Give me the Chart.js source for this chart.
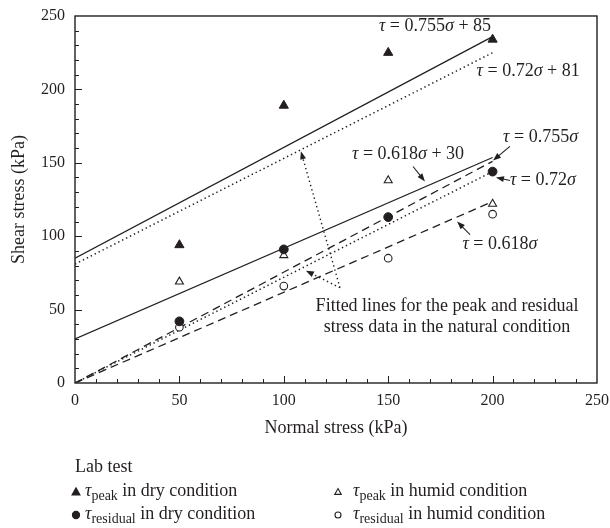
<!DOCTYPE html>
<html>
<head>
<meta charset="utf-8">
<script src="https://cdn.jsdelivr.net/npm/chart.js@4.4.1/dist/chart.umd.min.js"></script>
<style>
  body { margin: 0; background: #fff; }
  #wrap { width: 610px; height: 528px; }
</style>
</head>
<body>
<div id="wrap"><canvas id="mycanvas" width="610" height="528"></canvas></div>
<script>
// lab test results, shear stress (kPa) at each normal stress (kPa)
var normalStress = [50, 100, 150, 200];
var dryPeak = [94, 189, 225, 234];
var humidPeak = [69, 87, 138, 122];
var dryResidual = [42, 91, 113, 144];
var humidResidual = [38, 66, 85, 115];

// fitted lines tau = a*sigma + b
var fitSlopes = [0.755, 0.72, 0.618, 0.755, 0.72, 0.618];
var fitIntercepts = [85, 81, 30, 0, 0, 0];
var fitRange = [0, 200];

var xTicks = [0, 50, 100, 150, 200, 250];
var yTicks = [0, 50, 100, 150, 200, 250];

var FONT = '"Liberation Serif", "Times New Roman", serif';
var INK = '#231f20';
var TXT = 18;

function pts(ys) {
  return normalStress.map(function(x, i) { return {x: x, y: ys[i]}; });
}
function fitLine(i) {
  return fitRange.map(function(s) { return {x: s, y: fitSlopes[i] * s + fitIntercepts[i]}; });
}

var DOT = [1.4, 3];
var DASH = [8, 5];
var lineStyles = [[], DOT, [], DASH, DOT, DASH];

var datasets = [
  {label: 'peak dry', data: pts(dryPeak), pointStyle: 'triangle', pointRadius: 5.3,
   backgroundColor: INK, borderColor: INK, borderWidth: 1, order: 1},
  {label: 'peak humid', data: pts(humidPeak), pointStyle: 'triangle', pointRadius: 4.6,
   backgroundColor: '#fff', borderColor: INK, borderWidth: 1.1, order: 2},
  {label: 'residual dry', data: pts(dryResidual), pointStyle: 'circle', pointRadius: 4.4,
   backgroundColor: INK, borderColor: INK, borderWidth: 1, order: 0},
  {label: 'residual humid', data: pts(humidResidual), pointStyle: 'circle', pointRadius: 3.8,
   backgroundColor: '#fff', borderColor: INK, borderWidth: 1.1, order: 3}
];
for (var i = 0; i < fitSlopes.length; i++) {
  datasets.push({
    label: 'fit ' + i,
    data: fitLine(i),
    showLine: true,
    pointRadius: 0,
    borderColor: INK,
    borderWidth: lineStyles[i] === DOT ? 1.5 : 1.3,
    borderDash: lineStyles[i],
    borderCapStyle: 'butt',
    order: 10
  });
}

// rich text: runs of {t, it, sub}
function runFont(r) {
  return (r.it ? 'italic ' : '') + (r.sub ? '14px ' : TXT + 'px ') + FONT;
}
function drawRuns(ctx, runs, x, y, align) {
  var w = 0;
  runs.forEach(function(r) { ctx.font = runFont(r); w += ctx.measureText(r.t).width; });
  var cx = align === 'center' ? x - w / 2 : x;
  ctx.textAlign = 'left';
  ctx.textBaseline = 'middle';
  ctx.fillStyle = INK;
  runs.forEach(function(r) {
    ctx.font = runFont(r);
    ctx.fillText(r.t, cx, r.sub ? y + 5 : y);
    cx += ctx.measureText(r.t).width;
  });
}
function eq(a, b) {
  var runs = [{t: 'τ', it: true}, {t: ' = ' + a}, {t: 'σ', it: true}];
  if (b) runs.push({t: ' + ' + b});
  return runs;
}

function arrow(ctx, x0, y0, x1, y1, dotted) {
  var ang = Math.atan2(y1 - y0, x1 - x0);
  var len = 8, hw = 3;
  ctx.save();
  ctx.strokeStyle = INK;
  ctx.fillStyle = INK;
  ctx.lineWidth = dotted ? 1.4 : 1.1;
  ctx.setLineDash(dotted ? [1.4, 3] : []);
  ctx.beginPath();
  ctx.moveTo(x0, y0);
  ctx.lineTo(x1 - Math.cos(ang) * len * 0.8, y1 - Math.sin(ang) * len * 0.8);
  ctx.stroke();
  ctx.setLineDash([]);
  ctx.beginPath();
  ctx.moveTo(x1, y1);
  ctx.lineTo(x1 - Math.cos(ang) * len - Math.sin(ang) * hw, y1 - Math.sin(ang) * len + Math.cos(ang) * hw);
  ctx.lineTo(x1 - Math.cos(ang) * len + Math.sin(ang) * hw, y1 - Math.sin(ang) * len - Math.cos(ang) * hw);
  ctx.closePath();
  ctx.fill();
  ctx.restore();
}

// box round the plot plus inward minor/major ticks
var frameTicks = {
  id: 'frameTicks',
  beforeDatasetsDraw: function(chart) {
    var ctx = chart.ctx, a = chart.chartArea;
    var xs = chart.scales.x, ys = chart.scales.y;
    ctx.save();
    ctx.strokeStyle = INK;
    ctx.lineWidth = 1;
    ctx.beginPath();
    for (var v = 10; v < 250; v += 10) {
      var len = v % 50 === 0 ? 7 : 4;
      var px = Math.round(xs.getPixelForValue(v)) + 0.5;
      ctx.moveTo(px, a.bottom);
      ctx.lineTo(px, a.bottom - len);
      var py = Math.round(ys.getPixelForValue(v)) + 0.5;
      ctx.moveTo(a.left, py);
      ctx.lineTo(a.left + len, py);
    }
    ctx.stroke();
    ctx.lineWidth = 1.4;
    ctx.strokeRect(a.left, a.top, a.right - a.left, a.bottom - a.top);
    ctx.restore();
  }
};

var notes = {
  id: 'notes',
  afterDatasetsDraw: function(chart) {
    var ctx = chart.ctx;
    var xs = chart.scales.x, ys = chart.scales.y;
    function P(x, y) { return [xs.getPixelForValue(x), ys.getPixelForValue(y)]; }
    function label(runs, x, y, align) { var p = P(x, y); drawRuns(ctx, runs, p[0], p[1], align); }
    function arr(x0, y0, x1, y1, dotted) { var a = P(x0, y0), b = P(x1, y1); arrow(ctx, a[0], a[1], b[0], b[1], dotted); }

    label(eq('0.755', 85), 172.4, 243.2, 'center');
    label(eq('0.72', 81), 217, 212.4, 'center');
    label(eq('0.618', 30), 159.5, 155.7, 'center');
    label(eq('0.755'), 205, 167.3, 'left');
    label(eq('0.72'), 208.3, 138, 'left');
    label(eq('0.618'), 203.5, 94.3, 'center');

    arr(161.9, 147.5, 167.6, 137.3);
    arr(208.3, 161.2, 200.2, 151.6);
    arr(208.3, 138, 201.6, 140);
    arr(189.2, 101.1, 183, 110);

    arr(126.9, 64.9, 108.2, 157.8, true);
    arr(126.9, 64.9, 110.6, 76.5, true);

    label([{t: 'Fitted lines for the peak and residual'}], 178.2, 52.6, 'center');
    label([{t: 'stress data in the natural condition'}], 178.2, 38.3, 'center');
  },
  afterDraw: function(chart) {
    var ctx = chart.ctx;
    drawRuns(ctx, [{t: 'Lab test'}], 75, 467, 'left');
    var rows = [
      {x: 76, y: 492, shape: 'tri', fill: true, runs: [{t: 'τ', it: true}, {t: 'peak', sub: true}, {t: ' in dry condition'}]},
      {x: 76, y: 515, shape: 'dot', fill: true, runs: [{t: 'τ', it: true}, {t: 'residual', sub: true}, {t: ' in dry condition'}]},
      {x: 338, y: 492, shape: 'tri', fill: false, runs: [{t: 'τ', it: true}, {t: 'peak', sub: true}, {t: ' in humid condition'}]},
      {x: 338, y: 515, shape: 'dot', fill: false, runs: [{t: 'τ', it: true}, {t: 'residual', sub: true}, {t: ' in humid condition'}]}
    ];
    rows.forEach(function(r) {
      ctx.save();
      ctx.fillStyle = r.fill ? INK : '#fff';
      ctx.strokeStyle = INK;
      ctx.lineWidth = 1.1;
      ctx.beginPath();
      if (r.shape === 'tri') {
        var s = r.fill ? 4.2 : 3.4;
        ctx.moveTo(r.x, r.y - s);
        ctx.lineTo(r.x + s * 0.95, r.y + s * 0.7);
        ctx.lineTo(r.x - s * 0.95, r.y + s * 0.7);
        ctx.closePath();
      } else {
        ctx.arc(r.x, r.y, r.fill ? 3.6 : 3, 0, Math.PI * 2);
      }
      ctx.fill();
      ctx.stroke();
      ctx.restore();
      drawRuns(ctx, r.runs, r.x + (r.fill ? 9 : 15), r.y - 1, 'left');
    });
  }
};

var ctx = document.getElementById('mycanvas');
var chart = new Chart(ctx, {
  type: 'scatter',
  data: {datasets: datasets},
  plugins: [frameTicks, notes],
  options: {
    responsive: false,
    animation: false,
    layout: {padding: {left: 0, right: 13, top: 16, bottom: 80}},
    plugins: {legend: {display: false}, tooltip: {enabled: false}},
    scales: {
      x: {
        type: 'linear', min: 0, max: 250,
        afterFit: function(s) { s.height = 65; s.paddingLeft = 0; s.paddingRight = 0; },
        afterBuildTicks: function(s) { s.ticks = xTicks.map(function(v) { return {value: v}; }); },
        grid: {display: false, drawTicks: false},
        border: {display: false},
        ticks: {color: INK, padding: 8, maxRotation: 0, font: {family: FONT, size: 16}},
        title: {display: true, text: 'Normal stress (kPa)', color: INK, padding: {top: 4, bottom: 9},
                font: {family: FONT, size: TXT}}
      },
      y: {
        type: 'linear', min: 0, max: 250,
        afterFit: function(s) { s.width = 75; s.paddingTop = 0; s.paddingBottom = 0; },
        afterBuildTicks: function(s) { s.ticks = yTicks.map(function(v) { return {value: v}; }); },
        grid: {display: false, drawTicks: false},
        border: {display: false},
        ticks: {color: INK, padding: 10, font: {family: FONT, size: 16}},
        title: {display: true, text: 'Shear stress (kPa)', color: INK, padding: {top: 8, bottom: 4},
                font: {family: FONT, size: TXT}}
      }
    }
  }
});
</script>
</body>
</html>
